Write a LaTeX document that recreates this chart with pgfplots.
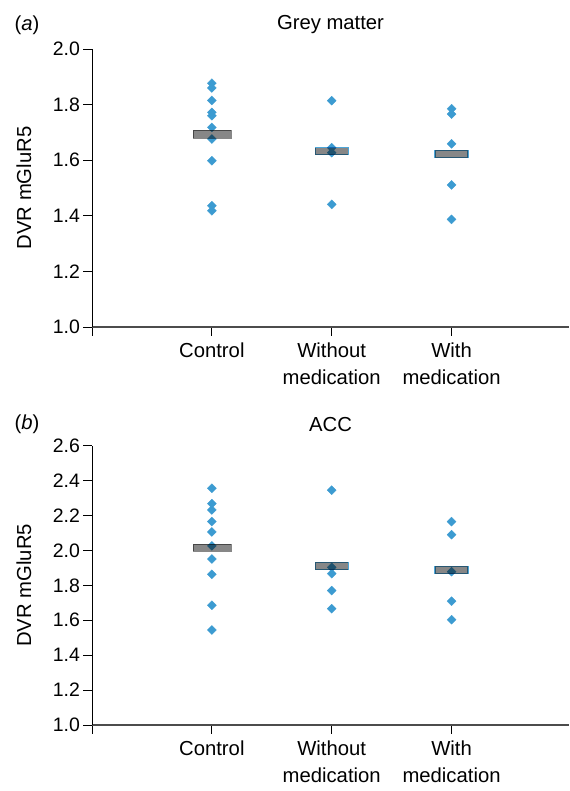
\documentclass[border=0pt]{standalone}
\usepackage{pgfplots}
\pgfplotsset{compat=1.18}
\usepackage{fontspec}
\setmainfont{Liberation Sans}
\definecolor{ptblue}{HTML}{3C9BD1}
\definecolor{barblue}{HTML}{4DA6D8}
\definecolor{bargray}{HTML}{878787}
\pgfdeclareplotmark{wbar}{\pgfpathrectangle{\pgfpoint{-14.25pt}{-2.9pt}}{\pgfpoint{28.5pt}{5.8pt}}\pgfusepathqfillstroke}
\pgfdeclareplotmark{nbar}{\pgfpathrectangle{\pgfpoint{-12.4pt}{-2.7pt}}{\pgfpoint{24.8pt}{5.4pt}}\pgfusepathqfillstroke}
\newcommand{\lblfont}{\fontsize{15.2}{20}\selectfont}
\newcommand{\tkfont}{\fontsize{14.6}{19.5}\selectfont}
\pgfplotsset{panel/.style={
  scale only axis, width=357.75pt, xmin=0, xmax=3.98,
  axis lines*=left,
  x axis line style={draw=black!70, line width=1pt},
  y axis line style={draw=black, line width=0.6pt},
  tick align=outside, major tick length=6.5pt,
  tick style={black, line width=0.6pt},
  xtick={0,1,2,3}, xticklabels={,Control,{Without\\medication},{With\\medication}},
  xticklabel style={align=center, font=\lblfont, yshift=-2pt},
  yticklabel style={font=\tkfont, xshift=1pt},
  /pgf/number format/.cd, fixed, fixed zerofill, precision=1, assume math mode=true,
  /pgfplots/.cd,
  ylabel={DVR mGluR5},
  ylabel style={font=\lblfont, at={([xshift=-51pt]axis description cs:0,0.5)}, anchor=center},
  title style={font=\lblfont, at={(axis description cs:0.5,1)}, anchor=base},
  clip=false,
  pts/.style={only marks, mark=square*, mark size=2.4pt, mark options={rotate=45, fill=ptblue, draw=ptblue, line width=0.2pt}},
  cbar/.style={only marks, mark=wbar, mark options={fill=bargray, draw=bargray, line width=0.2pt}, blend mode=multiply},
  obar/.style={only marks, mark=nbar, mark options={fill=bargray, draw=barblue, line width=0.9pt}, blend mode=multiply},
}}
\begin{document}
\begin{tikzpicture}
\path[use as bounding box] (0,0) rectangle (426.75pt,593.25pt);
% panel (a)
\begin{axis}[panel, at={(69pt,348pt)}, anchor=south west, height=208.5pt,
  ymin=1, ymax=2, ytick={1,1.2,1.4,1.6,1.8,2},
  title={Grey matter}, title style={yshift=8.5pt}]
\addplot[pts] coordinates {(1,1.877)(1,1.860)(1,1.815)(1,1.772)(1,1.760)(1,1.718)(1,1.676)(1,1.598)(1,1.436)(1,1.418)};
\addplot[pts] coordinates {(2,1.814)(2,1.645)(2,1.627)(2,1.441)};
\addplot[pts] coordinates {(3,1.785)(3,1.766)(3,1.659)(3,1.511)(3,1.387)};
\addplot[cbar] coordinates {(1,1.695)};
\addplot[obar] coordinates {(2,1.632)(3,1.622)};
\node[anchor=base west, font=\lblfont] at ([xshift=-61.5pt,yshift=13.5pt]axis description cs:0,1) {(\textit{a})};
\end{axis}
% panel (b)
\begin{axis}[panel, at={(69pt,49.5pt)}, anchor=south west, height=209.5pt,
  ymin=1, ymax=2.6, ytick={1,1.2,1.4,1.6,1.8,2,2.2,2.4,2.6},
  title={ACC}, title style={yshift=4.5pt}]
\addplot[pts] coordinates {(1,2.356)(1,2.268)(1,2.232)(1,2.165)(1,2.106)(1,2.026)(1,1.951)(1,1.863)(1,1.686)(1,1.544)};
\addplot[pts] coordinates {(2,2.345)(2,1.903)(2,1.867)(2,1.770)(2,1.666)};
\addplot[pts] coordinates {(3,2.165)(3,2.090)(3,1.878)(3,1.709)(3,1.603)};
\addplot[cbar] coordinates {(1,2.016)};
\addplot[obar] coordinates {(2,1.911)(3,1.888)};
\node[anchor=base west, font=\lblfont] at ([xshift=-61.5pt,yshift=12pt]axis description cs:0,1) {(\textit{b})};
\end{axis}
\end{tikzpicture}
\end{document}
